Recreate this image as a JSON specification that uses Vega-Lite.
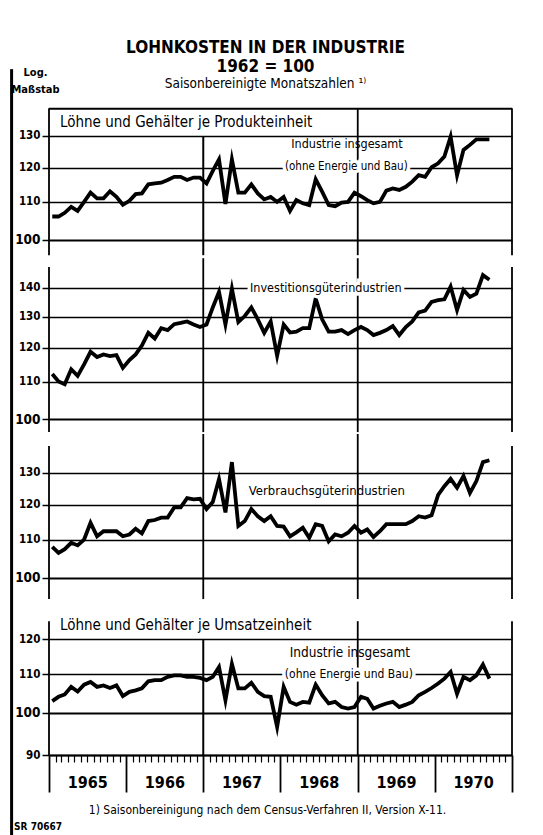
{
  "$schema": "https://vega.github.io/schema/vega-lite/v6.json",
  "background": "white",
  "padding": {"left": 10, "top": 38, "right": 4, "bottom": 0},
  "spacing": 0,
  "bounds": "flush",
  "config": {
    "font": "DejaVu Sans Condensed, Liberation Sans Narrow, DejaVu Sans",
    "view": {"stroke": null},
    "axis": {"labelColor": "black", "titleColor": "black", "tickColor": "black", "domainColor": "black", "gridColor": "black"}
  },
  "title": {"text": "SR 70667", "orient": "bottom", "anchor": "start", "fontSize": 10, "fontWeight": "bold", "color": "black", "offset": -15, "dx": 4},
  "datasets": {
    "series": [
      {"d":"1965-01","prod":106,"invest":112.2,"verbr":108,"umsatz":102.9},
      {"d":"1965-02","prod":106,"invest":110.1,"verbr":106.4,"umsatz":104},
      {"d":"1965-03","prod":107,"invest":109.3,"verbr":107.4,"umsatz":104.6},
      {"d":"1965-04","prod":108.6,"invest":113.6,"verbr":109.1,"umsatz":106.6},
      {"d":"1965-05","prod":107.5,"invest":111.7,"verbr":108.4,"umsatz":105.4},
      {"d":"1965-06","prod":110,"invest":115,"verbr":110,"umsatz":107.2},
      {"d":"1965-07","prod":112.6,"invest":118.8,"verbr":114.7,"umsatz":107.9},
      {"d":"1965-08","prod":111,"invest":117.2,"verbr":110.9,"umsatz":106.6},
      {"d":"1965-09","prod":111,"invest":118,"verbr":112.3,"umsatz":107},
      {"d":"1965-10","prod":113,"invest":117.5,"verbr":112.3,"umsatz":106.3},
      {"d":"1965-11","prod":111.4,"invest":117.8,"verbr":112.3,"umsatz":107},
      {"d":"1965-12","prod":109.2,"invest":114,"verbr":110.9,"umsatz":104.2},
      {"d":"1966-01","prod":110.3,"invest":116.3,"verbr":111.4,"umsatz":105.3},
      {"d":"1966-02","prod":112.2,"invest":118,"verbr":113,"umsatz":105.7},
      {"d":"1966-03","prod":112.4,"invest":120.7,"verbr":111.7,"umsatz":106.2},
      {"d":"1966-04","prod":115,"invest":124.7,"verbr":115.2,"umsatz":108.1},
      {"d":"1966-05","prod":115.3,"invest":122.9,"verbr":115.5,"umsatz":108.4},
      {"d":"1966-06","prod":115.5,"invest":126.2,"verbr":116.2,"umsatz":108.4},
      {"d":"1966-07","prod":116.3,"invest":125.6,"verbr":116.2,"umsatz":109.3},
      {"d":"1966-08","prod":117.2,"invest":127.5,"verbr":119.2,"umsatz":109.7},
      {"d":"1966-09","prod":117.2,"invest":127.9,"verbr":119.2,"umsatz":109.7},
      {"d":"1966-10","prod":116.3,"invest":128.4,"verbr":122,"umsatz":109.3},
      {"d":"1966-11","prod":117,"invest":127.4,"verbr":121.6,"umsatz":109.3},
      {"d":"1966-12","prod":117,"invest":126.6,"verbr":121.8,"umsatz":109},
      {"d":"1967-01","prod":115.3,"invest":127.4,"verbr":118.7,"umsatz":108.4},
      {"d":"1967-02","prod":119,"invest":133.1,"verbr":120.8,"umsatz":109.3},
      {"d":"1967-03","prod":122.5,"invest":138.5,"verbr":127.9,"umsatz":112},
      {"d":"1967-04","prod":109.4,"invest":127.4,"verbr":117.7,"umsatz":103.1},
      {"d":"1967-05","prod":122.5,"invest":139.7,"verbr":133.5,"umsatz":112.9},
      {"d":"1967-06","prod":112.6,"invest":128.2,"verbr":113.8,"umsatz":106.2},
      {"d":"1967-07","prod":112.6,"invest":130.2,"verbr":115.2,"umsatz":106.2},
      {"d":"1967-08","prod":115,"invest":133.1,"verbr":118.7,"umsatz":107.7},
      {"d":"1967-09","prod":112.4,"invest":129.1,"verbr":116.6,"umsatz":105.3},
      {"d":"1967-10","prod":110.7,"invest":124.7,"verbr":115.2,"umsatz":104.2},
      {"d":"1967-11","prod":111.4,"invest":128.4,"verbr":116.6,"umsatz":104},
      {"d":"1967-12","prod":110,"invest":117.6,"verbr":113.8,"umsatz":96.5},
      {"d":"1968-01","prod":111.4,"invest":127.4,"verbr":113.6,"umsatz":106.6},
      {"d":"1968-02","prod":107.5,"invest":124.8,"verbr":110.9,"umsatz":102.7},
      {"d":"1968-03","prod":110.5,"invest":125.1,"verbr":112,"umsatz":102},
      {"d":"1968-04","prod":109.6,"invest":126.2,"verbr":113.3,"umsatz":102.7},
      {"d":"1968-05","prod":109.1,"invest":126.2,"verbr":110.5,"umsatz":102.5},
      {"d":"1968-06","prod":116.5,"invest":136.2,"verbr":114.3,"umsatz":107.2},
      {"d":"1968-07","prod":112.9,"invest":129.1,"verbr":113.8,"umsatz":104.4},
      {"d":"1968-08","prod":109.1,"invest":125.1,"verbr":109.5,"umsatz":102.3},
      {"d":"1968-09","prod":108.8,"invest":125.1,"verbr":111.4,"umsatz":102.7},
      {"d":"1968-10","prod":109.8,"invest":125.6,"verbr":110.9,"umsatz":101.4},
      {"d":"1968-11","prod":110,"invest":124.3,"verbr":111.9,"umsatz":101},
      {"d":"1968-12","prod":112.6,"invest":125.6,"verbr":113.8,"umsatz":101.4},
      {"d":"1969-01","prod":111.6,"invest":126.6,"verbr":111.9,"umsatz":104},
      {"d":"1969-02","prod":110.5,"invest":125.6,"verbr":112.8,"umsatz":103.5},
      {"d":"1969-03","prod":109.6,"invest":124,"verbr":110.7,"umsatz":101},
      {"d":"1969-04","prod":110,"invest":124.7,"verbr":112.3,"umsatz":101.7},
      {"d":"1969-05","prod":113.2,"invest":125.6,"verbr":114.3,"umsatz":102.3},
      {"d":"1969-06","prod":113.8,"invest":126.9,"verbr":114.3,"umsatz":102.7},
      {"d":"1969-07","prod":113.4,"invest":124,"verbr":114.3,"umsatz":101.4},
      {"d":"1969-08","prod":114.3,"invest":126.6,"verbr":114.3,"umsatz":102},
      {"d":"1969-09","prod":115.8,"invest":128.4,"verbr":115.2,"umsatz":102.7},
      {"d":"1969-10","prod":117.7,"invest":131.4,"verbr":116.6,"umsatz":104.4},
      {"d":"1969-11","prod":117.2,"invest":132,"verbr":116.2,"umsatz":105.3},
      {"d":"1969-12","prod":120.1,"invest":135,"verbr":116.9,"umsatz":106.3},
      {"d":"1970-01","prod":121.3,"invest":135.6,"verbr":123,"umsatz":107.5},
      {"d":"1970-02","prod":123.4,"invest":135.9,"verbr":125.7,"umsatz":108.8},
      {"d":"1970-03","prod":129.8,"invest":140.4,"verbr":128,"umsatz":110.6},
      {"d":"1970-04","prod":117.7,"invest":132.2,"verbr":125.2,"umsatz":104.8},
      {"d":"1970-05","prod":125.5,"invest":139.2,"verbr":128.9,"umsatz":109.3},
      {"d":"1970-06","prod":127.1,"invest":136.7,"verbr":123.6,"umsatz":108.4},
      {"d":"1970-07","prod":128.9,"invest":137.9,"verbr":127.3,"umsatz":109.7},
      {"d":"1970-08","prod":128.9,"invest":144.6,"verbr":133.5,"umsatz":112.7},
      {"d":"1970-09","prod":128.9,"invest":142.9,"verbr":134.1,"umsatz":108.8}
    ],
    "frame": [{"left": "1964-07-08"}],
    "outer": [{"d":"1965-01-01"},{"d":"1969-01-01"},{"d":"1971-01-01"}],
    "inner": [{"d":"1967-01-01"}],
    "edges": [{"d":"1965-01-01"},{"d":"1971-01-01"}],
    "mids": [{"d":"1967-01-01"},{"d":"1969-01-01"}],
    "head1": [{"label": "Löhne und Gehälter je Produkteinheit", "d": "1965-02-22", "v": 134.7}],
    "head4": [{"label": "Löhne und Gehälter je Umsatzeinheit", "d": "1965-02-22", "v": 124.3}],
    "lab1a": [{"label": "Industrie insgesamt", "d": "1968-11-11", "v": 127.3}],
    "lab1b": [{"label": "(ohne Energie und Bau)", "d": "1968-11-08", "v": 120.2}],
    "lab2": [{"label": "Investitionsgüterindustrien", "d": "1968-08-03", "v": 140}],
    "lab3": [{"label": "Verbrauchsgüterindustrien", "d": "1968-08-08", "v": 124.2}],
    "lab4a": [{"label": "Industrie insgesamt", "d": "1968-11-25", "v": 116}],
    "lab4b": [{"label": "(ohne Energie und Bau)", "d": "1968-11-20", "v": 110.2}]
  },
  "vconcat": [
    {
      "width": 463,
      "height": 150,
      "title": {"text": ["LOHNKOSTEN IN DER INDUSTRIE", "1962 = 100"], "subtitle": "Saisonbereinigte Monatszahlen ¹⁾", "frame": "group", "anchor": "middle", "dx": -15, "fontSize": 17, "fontWeight": "bold", "lineHeight": 19, "color": "black", "subtitleFontSize": 13.5, "subtitleColor": "black", "subtitlePadding": 1, "offset": -25},
      "layer": [
        {
          "data": {"name": "series"},
          "mark": {"type": "line", "color": "black", "strokeWidth": 3.8, "strokeJoin": "miter", "strokeMiterLimit": 6},
          "encoding": {
            "x": {"field": "d", "type": "temporal", "timeUnit": "utcyearmonth", "bandPosition": 0.5,
                  "scale": {"type": "utc", "nice": false, "domain": ["1965-01-01", "1971-01-01"]},
                  "axis": null},
            "y": {"field": "prod", "type": "quantitative",
                  "scale": {"type": "log", "domain": [95.42, 139.56], "nice": false},
                  "axis": {"values": [100, 110, 120, 130], "grid": true,
                           "gridWidth": {"condition": {"test": "datum.value == 100", "value": 2.2}, "value": 1.6},
                           "domain": false, "tickSize": 7, "tickWidth": 1.5,
                           "labelFontSize": {"condition": {"test": "datum.value == 100", "value": 13.5}, "value": 11.5},
                           "labelFontWeight": "bold", "labelPadding": 2, "minExtent": 34, "maxExtent": 34,
                           "title": ["Log.", "Maßstab"], "titleAngle": 0, "titleAlign": "center", "titleBaseline": "bottom",
                           "titleX": -14, "titleY": -31, "titleFontSize": 11, "titleFontWeight": "bold", "titleLineHeight": 17}}
          }
        },
        {
          "data": {"name": "frame"},
          "mark": {"type": "rule", "color": "black", "strokeWidth": 3},
          "encoding": {
            "x": {"field": "left", "type": "temporal", "axis": null},
            "y": {"datum": 95.42, "type": "quantitative"},
            "y2": {"datum": 154}
          }
        },
        {
          "data": {"name": "outer"},
          "mark": {"type": "rule", "color": "black", "strokeWidth": 1.8},
          "encoding": {
            "x": {"field": "d", "type": "temporal", "axis": null},
            "y": {"datum": 96.1, "type": "quantitative"},
            "y2": {"datum": 139.5}
          }
        },
        {
          "data": {"name": "inner"},
          "mark": {"type": "rule", "color": "black", "strokeWidth": 2},
          "encoding": {
            "x": {"field": "d", "type": "temporal", "axis": null},
            "y": {"datum": 96.1, "type": "quantitative"},
            "y2": {"datum": 130}
          }
        },
        {
          "data": {"name": "inner"},
          "mark": {"type": "rule", "color": "black", "strokeWidth": 1.8},
          "encoding": {
            "y": {"datum": 139.3, "type": "quantitative"}
          }
        },
        {
          "data": {"name": "head1"},
          "mark": {"type": "text", "align": "left", "baseline": "middle", "fontSize": 15, "color": "black"},
          "encoding": {
            "x": {"field": "d", "type": "temporal", "axis": null},
            "y": {"field": "v", "type": "quantitative"},
            "text": {"field": "label"}
          }
        },
        {
          "data": {"name": "lab1a"},
          "mark": {"type": "text", "align": "center", "baseline": "middle", "fontSize": 12.5, "color": "black"},
          "encoding": {
            "x": {"field": "d", "type": "temporal", "axis": null},
            "y": {"field": "v", "type": "quantitative"},
            "text": {"field": "label"}
          }
        },
        {
          "data": {"name": "lab1b"},
          "mark": {"type": "text", "align": "center", "baseline": "middle", "fontSize": 11.5, "color": "white", "stroke": "white", "strokeWidth": 7},
          "encoding": {
            "x": {"field": "d", "type": "temporal", "axis": null},
            "y": {"field": "v", "type": "quantitative"},
            "text": {"field": "label"}
          }
        },
        {
          "data": {"name": "lab1b"},
          "mark": {"type": "text", "align": "center", "baseline": "middle", "fontSize": 11.5, "color": "black"},
          "encoding": {
            "x": {"field": "d", "type": "temporal", "axis": null},
            "y": {"field": "v", "type": "quantitative"},
            "text": {"field": "label"}
          }
        }
      ]
    },
    {
      "width": 463,
      "height": 176,
      "layer": [
        {
          "data": {"name": "series"},
          "mark": {"type": "line", "color": "black", "strokeWidth": 3.8, "strokeJoin": "miter", "strokeMiterLimit": 6},
          "encoding": {
            "x": {"field": "d", "type": "temporal", "timeUnit": "utcyearmonth", "bandPosition": 0.5,
                  "scale": {"type": "utc", "nice": false, "domain": ["1965-01-01", "1971-01-01"]},
                  "axis": null},
            "y": {"field": "invest", "type": "quantitative",
                  "scale": {"type": "log", "domain": [96.23, 151.07], "nice": false},
                  "axis": {"values": [100, 110, 120, 130, 140], "grid": true,
                           "gridWidth": {"condition": {"test": "datum.value == 100", "value": 2.2}, "value": 1.6},
                           "domain": false, "tickSize": 7, "tickWidth": 1.5,
                           "labelFontSize": {"condition": {"test": "datum.value == 100", "value": 13.5}, "value": 11.5},
                           "labelFontWeight": "bold", "labelPadding": 2, "minExtent": 34, "maxExtent": 34, "title": null}}
          }
        },
        {
          "data": {"name": "frame"},
          "mark": {"type": "rule", "color": "black", "strokeWidth": 3},
          "encoding": {
            "x": {"field": "left", "type": "temporal", "axis": null},
            "y": {"datum": 96.23, "type": "quantitative"},
            "y2": {"datum": 151.07}
          }
        },
        {
          "data": {"name": "edges"},
          "mark": {"type": "rule", "color": "black", "strokeWidth": 1.8},
          "encoding": {
            "x": {"field": "d", "type": "temporal", "axis": null},
            "y": {"datum": 96.7, "type": "quantitative"},
            "y2": {"datum": 147.6}
          }
        },
        {
          "data": {"name": "mids"},
          "mark": {"type": "rule", "color": "black", "strokeWidth": 1.8},
          "encoding": {
            "x": {"field": "d", "type": "temporal", "axis": null},
            "y": {"datum": 96.7, "type": "quantitative"},
            "y2": {"datum": 151}
          }
        },
        {
          "data": {"name": "lab2"},
          "mark": {"type": "text", "align": "center", "baseline": "middle", "fontSize": 12.5, "color": "white", "stroke": "white", "strokeWidth": 7},
          "encoding": {
            "x": {"field": "d", "type": "temporal", "axis": null},
            "y": {"field": "v", "type": "quantitative"},
            "text": {"field": "label"}
          }
        },
        {
          "data": {"name": "lab2"},
          "mark": {"type": "text", "align": "center", "baseline": "middle", "fontSize": 12.5, "color": "black"},
          "encoding": {
            "x": {"field": "d", "type": "temporal", "axis": null},
            "y": {"field": "v", "type": "quantitative"},
            "text": {"field": "label"}
          }
        }
      ]
    },
    {
      "width": 463,
      "height": 167,
      "layer": [
        {
          "data": {"name": "series"},
          "mark": {"type": "line", "color": "black", "strokeWidth": 3.8, "strokeJoin": "miter", "strokeMiterLimit": 6},
          "encoding": {
            "x": {"field": "d", "type": "temporal", "timeUnit": "utcyearmonth", "bandPosition": 0.5,
                  "scale": {"type": "utc", "nice": false, "domain": ["1965-01-01", "1971-01-01"]},
                  "axis": null},
            "y": {"field": "verbr", "type": "quantitative",
                  "scale": {"type": "log", "domain": [94.34, 143.2], "nice": false},
                  "axis": {"values": [100, 110, 120, 130], "grid": true,
                           "gridWidth": {"condition": {"test": "datum.value == 100", "value": 2.2}, "value": 1.6},
                           "domain": false, "tickSize": 7, "tickWidth": 1.5,
                           "labelFontSize": {"condition": {"test": "datum.value == 100", "value": 13.5}, "value": 11.5},
                           "labelFontWeight": "bold", "labelPadding": 2, "minExtent": 34, "maxExtent": 34, "title": null}}
          }
        },
        {
          "data": {"name": "frame"},
          "mark": {"type": "rule", "color": "black", "strokeWidth": 3},
          "encoding": {
            "x": {"field": "left", "type": "temporal", "axis": null},
            "y": {"datum": 94.34, "type": "quantitative"},
            "y2": {"datum": 143.2}
          }
        },
        {
          "data": {"name": "edges"},
          "mark": {"type": "rule", "color": "black", "strokeWidth": 1.8},
          "encoding": {
            "x": {"field": "d", "type": "temporal", "axis": null},
            "y": {"datum": 94.8, "type": "quantitative"},
            "y2": {"datum": 139}
          }
        },
        {
          "data": {"name": "mids"},
          "mark": {"type": "rule", "color": "black", "strokeWidth": 1.8},
          "encoding": {
            "x": {"field": "d", "type": "temporal", "axis": null},
            "y": {"datum": 94.8, "type": "quantitative"},
            "y2": {"datum": 143.2}
          }
        },
        {
          "data": {"name": "lab3"},
          "mark": {"type": "text", "align": "center", "baseline": "middle", "fontSize": 13, "color": "black"},
          "encoding": {
            "x": {"field": "d", "type": "temporal", "axis": null},
            "y": {"field": "v", "type": "quantitative"},
            "text": {"field": "label"}
          }
        }
      ]
    },
    {
      "width": 463,
      "height": 154,
      "layer": [
        {
          "data": {"name": "series"},
          "mark": {"type": "line", "color": "black", "strokeWidth": 3.8, "strokeJoin": "miter", "strokeMiterLimit": 6},
          "encoding": {
            "x": {"field": "d", "type": "temporal", "timeUnit": "utcyearmonth", "bandPosition": 0.5,
                  "scale": {"type": "utc", "nice": false, "domain": ["1965-01-01", "1971-01-01"]},
                  "axis": {"orient": "bottom", "tickCount": {"interval": "month", "step": 1}, "grid": false,
                           "domain": true, "domainWidth": 2,
                           "tickSize": {"condition": {"test": "utcmonth(datum.value) == 0", "value": 37}, "value": 7},
                           "tickWidth": {"condition": {"test": "utcmonth(datum.value) == 0", "value": 1.8}, "value": 1.2},
                           "labelExpr": "utcmonth(datum.value) == 6 ? utcFormat(datum.value, '%Y') : ''",
                           "labelOverlap": false, "labelBound": false, "labelFlush": false,
                           "labelFontSize": 16, "labelFontWeight": "bold", "labelPadding": 12,
                           "title": "1) Saisonbereinigung nach dem Census-Verfahren II, Version X-11.",
                           "titleFontSize": 12, "titleFontWeight": "normal", "titleBaseline": "top", "titleY": 49, "titleX": 218}},
            "y": {"field": "umsatz", "type": "quantitative",
                  "scale": {"type": "log", "domain": [90, 131.96], "nice": false},
                  "axis": {"values": [90, 100, 110, 120], "grid": true,
                           "gridWidth": {"condition": {"test": "datum.value == 100", "value": 2.2}, "value": 1.6},
                           "domain": false, "tickSize": 7, "tickWidth": 1.5,
                           "labelFontSize": {"condition": {"test": "datum.value == 100", "value": 13.5}, "value": 11.5},
                           "labelFontWeight": "bold", "labelPadding": 2, "minExtent": 34, "maxExtent": 34, "title": null}}
          }
        },
        {
          "data": {"name": "frame"},
          "mark": {"type": "rule", "color": "black", "strokeWidth": 3},
          "encoding": {
            "x": {"field": "left", "type": "temporal"},
            "y": {"datum": 73.6, "type": "quantitative"},
            "y2": {"datum": 131.96}
          }
        },
        {
          "data": {"name": "outer"},
          "mark": {"type": "rule", "color": "black", "strokeWidth": 1.8},
          "encoding": {
            "x": {"field": "d", "type": "temporal"},
            "y": {"datum": 90, "type": "quantitative"},
            "y2": {"datum": 125.5}
          }
        },
        {
          "data": {"name": "inner"},
          "mark": {"type": "rule", "color": "black", "strokeWidth": 2},
          "encoding": {
            "x": {"field": "d", "type": "temporal"},
            "y": {"datum": 90, "type": "quantitative"},
            "y2": {"datum": 120}
          }
        },
        {
          "data": {"name": "head4"},
          "mark": {"type": "text", "align": "left", "baseline": "middle", "fontSize": 15, "color": "black"},
          "encoding": {
            "x": {"field": "d", "type": "temporal"},
            "y": {"field": "v", "type": "quantitative"},
            "text": {"field": "label"}
          }
        },
        {
          "data": {"name": "lab4a"},
          "mark": {"type": "text", "align": "center", "baseline": "middle", "fontSize": 13.5, "color": "black"},
          "encoding": {
            "x": {"field": "d", "type": "temporal"},
            "y": {"field": "v", "type": "quantitative"},
            "text": {"field": "label"}
          }
        },
        {
          "data": {"name": "lab4b"},
          "mark": {"type": "text", "align": "center", "baseline": "middle", "fontSize": 12, "color": "white", "stroke": "white", "strokeWidth": 7},
          "encoding": {
            "x": {"field": "d", "type": "temporal"},
            "y": {"field": "v", "type": "quantitative"},
            "text": {"field": "label"}
          }
        },
        {
          "data": {"name": "lab4b"},
          "mark": {"type": "text", "align": "center", "baseline": "middle", "fontSize": 12, "color": "black"},
          "encoding": {
            "x": {"field": "d", "type": "temporal"},
            "y": {"field": "v", "type": "quantitative"},
            "text": {"field": "label"}
          }
        }
      ]
    }
  ]
}
